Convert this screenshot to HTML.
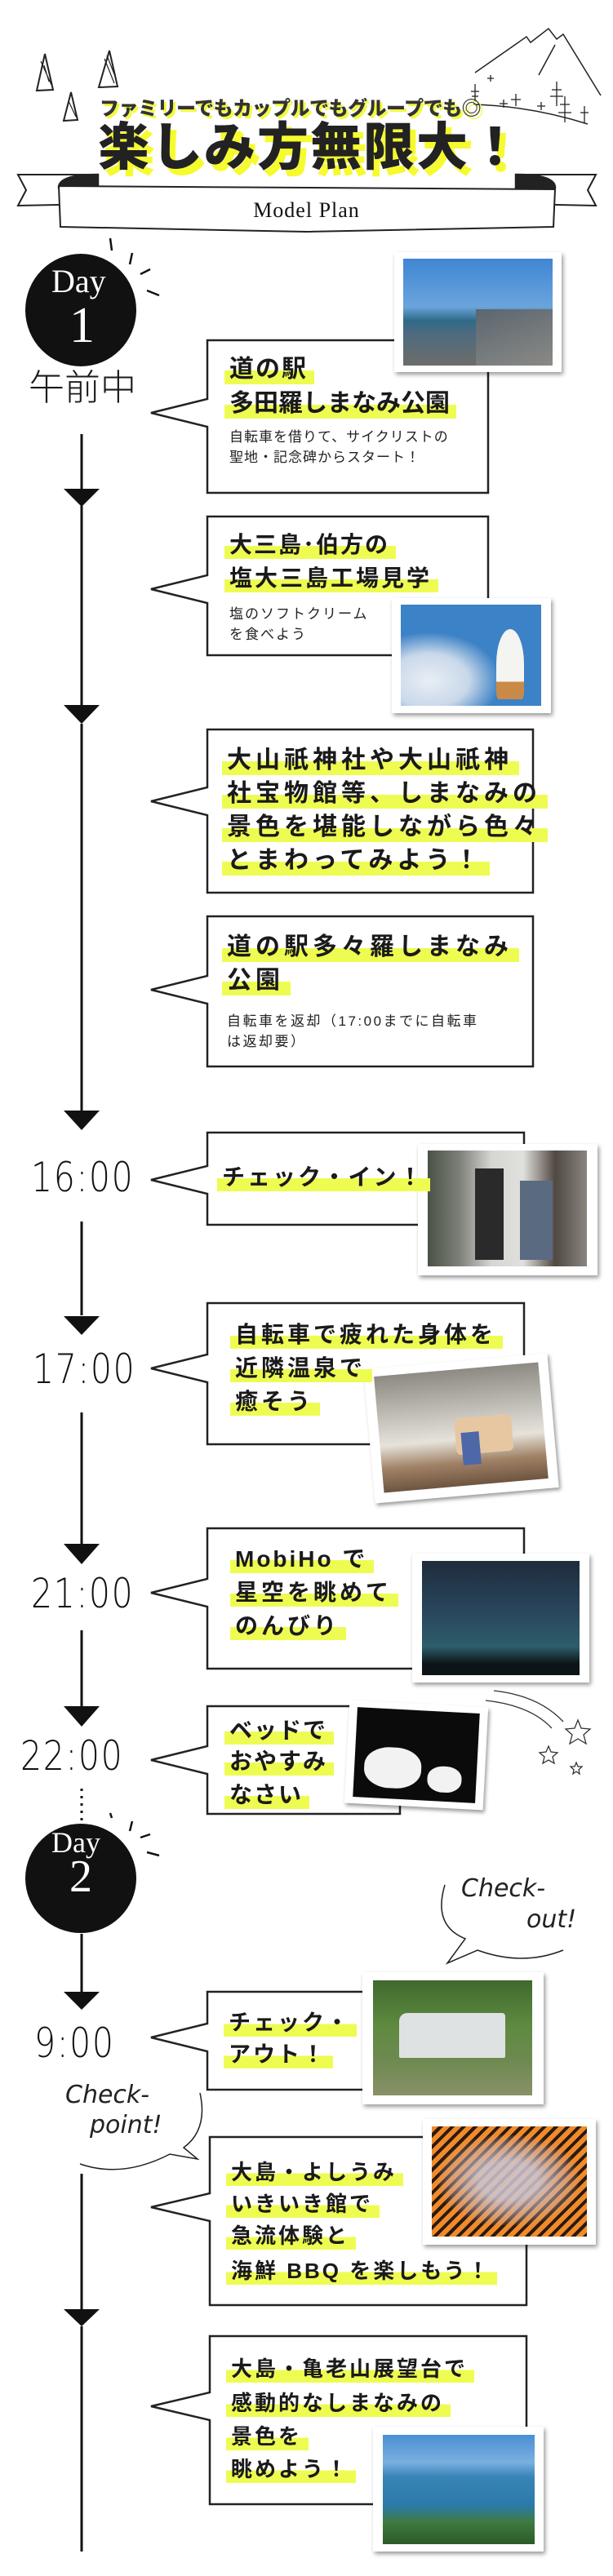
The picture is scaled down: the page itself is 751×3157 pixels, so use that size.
<!DOCTYPE html>
<html><head><meta charset="utf-8"><style>
*{margin:0;padding:0;box-sizing:border-box}
body{width:751px;height:3157px;background:#fff;position:relative;overflow:hidden;font-family:"Liberation Sans","Noto Sans CJK JP",sans-serif;color:#1a1a1a}
.a{position:absolute}
.t{position:absolute;font-family:"Liberation Sans","Noto Sans CJK JP",sans-serif;font-weight:700;font-size:28px;line-height:1;white-space:nowrap;letter-spacing:2px}
.t span{background:linear-gradient(transparent 52%,#eefc52 52%,#eefc52 100%);padding:0 8px 2px 6px;margin-left:-6px}
.s{position:absolute;font-family:"Liberation Sans","Noto Sans CJK JP",sans-serif;font-weight:400;font-size:17px;line-height:25px;white-space:nowrap;color:#222;letter-spacing:1px}
.ph{position:absolute;background:#fff;box-shadow:2px 3px 5px rgba(0,0,0,.4)}
.ph i{position:absolute;display:block}
.tm{position:absolute;font-family:"DejaVu Sans","Liberation Sans",sans-serif;font-weight:200;font-size:50px;line-height:1;transform:scaleX(.82);transform-origin:left top;color:#111;letter-spacing:2px}
.hw{position:absolute;font-family:"DejaVu Sans",sans-serif;font-style:italic;font-weight:200;font-size:30px;line-height:1;color:#222}
</style></head><body>
<svg class="a" style="left:0;top:0" width="751" height="3157" viewBox="0 0 751 3157">
<g fill="none" stroke="#222" stroke-width="2.5" stroke-linejoin="miter">
<!-- ribbon -->
<path d="M22 214 L120 214 L120 250 L22 252 L32 233 Z" fill="#fff" stroke-width="2"/>
<path d="M730 214 L632 214 L632 250 L730 252 L720 233 Z" fill="#fff" stroke-width="2"/>
<path d="M72 230 Q72 214 120 214 L120 230Z" fill="#222"/>
<path d="M680 230 Q680 214 632 214 L632 230Z" fill="#222"/>
<path d="M72 228 L680 232 L678 278 L375 284 L74 278 Z" fill="#fff" stroke-width="2"/>
<!-- top triangles -->
<path d="M55 66 L45 111 L65 110 Z" fill="#fff" stroke-width="2"/>
<path d="M134 62 L121 107 L144 106 Z" fill="#fff" stroke-width="2"/>
<path d="M87 113 L78 148 L95 147 Z" fill="#fff" stroke-width="2"/>
<path d="M50 75 L63 104 M54 80 L60 100 M128 72 L140 102 M131 68 L142 96 M84 124 L93 143" stroke-width="1.2"/>
<!-- mountain -->
<path d="M582 89 L645 45 L650 52 L672 35 L682 48 L690 42 L736 117 M680 55 L660 92" stroke-width="1.5"/>
<path d="M580 128 Q650 130 720 152" stroke-width="1.5"/>
<g stroke-width="1.3"><path d="M582 103 V125 M577 112 L587 112 M578 118 L586 118 M632 115 V130 M626 122 L638 122 M682 100 V130 M676 110 L688 110 M674 118 L690 118 M692 118 V150 M686 128 L698 128 M684 138 L700 138 M716 130 V150 M711 138 L721 138 M663 125 V135 M658 130 L668 130 M601 92 V100 M597 96 L605 96 M617 122 V132 M612 127 L622 127"/></g>
<!-- bubbles -->
<g fill="#fff" stroke="#222" stroke-width="2.5">
<path d="M254 417H598V604H254V523L185 506L254 489Z"/>
<path d="M254 633H598V803H254V739L185 722L254 705Z"/>
<path d="M254 894H653V1094H254V999L185 982L254 965Z"/>
<path d="M254 1123H653V1307H254V1230L185 1213L254 1196Z"/>
<path d="M254 1388H642V1501H254V1463L185 1446L254 1429Z"/>
<path d="M254 1597H642V1770H254V1694L185 1677L254 1660Z"/>
<path d="M254 1873H642V2045H254V1969L185 1952L254 1935Z"/>
<path d="M254 2091H490V2223H254V2174L185 2157L254 2140Z"/>
<path d="M254 2441H500V2561H254V2514L185 2497L254 2480Z"/>
<path d="M257 2619H645V2825H257V2722L185 2705L257 2688Z"/>
<path d="M257 2863H645V3069H257V2966L185 2949L257 2932Z"/>
</g>
<!-- timeline -->
<g stroke="#111" stroke-width="3">
<path d="M100 532V600 M100 620V864 M100 887V1361 M100 1497V1612 M100 1731V1892 M100 1998V2091 M100 2370V2441 M100 2664V2830 M100 2851V3127"/>
<path d="M100 2192V2235" stroke-dasharray="3 6"/>
</g>
<g fill="#111" stroke="none">
<polygon points="78,599 122,599 100,621"/>
<polygon points="78,864 122,864 100,887"/>
<polygon points="78,1361 122,1361 100,1385"/>
<polygon points="78,1613 122,1613 100,1636"/>
<polygon points="78,1892 122,1892 100,1917"/>
<polygon points="78,2091 122,2091 100,2116"/>
<polygon points="78,2441 122,2441 100,2463"/>
<polygon points="78,2830 122,2830 100,2851"/>
<ellipse cx="99" cy="380" rx="68" ry="69"/>
<ellipse cx="99" cy="2302" rx="68" ry="67"/>
</g>
<g stroke="#111" stroke-width="2.5">
<path d="M135 292 L137 307 M162 310 L159 324 M172 336 L184 330 M180 356 L195 362"/>
<path d="M135 2222 L137 2228 M162 2232 L159 2244 M172 2252 L184 2248 M180 2270 L195 2274"/>
</g>
<g stroke="#333" stroke-width="1.3" fill="none">
<path d="M605 2072 Q660 2078 690 2110 M595 2084 Q650 2090 676 2118"/>
<path d="M708 2108 l4 10 11 1 -8 7 3 11 -10 -6 -10 6 3 -11 -8 -7 11 -1z"/>
<path d="M672 2140 l3 7 8 1 -6 5 2 8 -7 -4 -7 4 2 -8 -6 -5 8 -1z"/>
<path d="M706 2160 l2 5 5 0 -4 4 1 5 -4 -3 -4 3 1 -5 -4 -4 5 0z"/>
</g>
<path d="M545 2310 Q530 2360 570 2376 L548 2406 L585 2390 Q640 2410 690 2390" fill="none" stroke="#222" stroke-width="1.5"/>
<path d="M245 2565 Q255 2610 225 2632 L242 2646 L208 2640 Q150 2670 98 2652" fill="none" stroke="#222" stroke-width="1.5"/>
</svg>

<div class="a" style="left:122px;top:122px;font-family:'Liberation Sans','Noto Sans CJK JP',sans-serif;font-weight:900;font-size:24px;line-height:1;letter-spacing:-0.5px;color:#333;text-shadow:3px 3px 0 #f2fb3c;white-space:nowrap">ファミリーでもカップルでもグループでも◎</div>
<div class="a" style="left:120px;top:150px;font-family:'Liberation Sans','Noto Sans CJK JP',sans-serif;font-weight:900;font-size:63px;line-height:1;letter-spacing:2px;color:#222;text-shadow:7px 8px 0 #f5fb2e;white-space:nowrap">楽しみ方無限大！</div>
<div class="a" style="left:0;width:751px;top:245px;text-align:center;font-family:'Liberation Serif',serif;font-size:26px;line-height:1;letter-spacing:1px;color:#111">Model Plan</div>

<div class="a" style="left:63px;top:325px;font-family:'Liberation Serif',serif;font-size:40px;color:#fff;line-height:1">Day</div>
<div class="a" style="left:85px;top:368px;font-family:'Liberation Serif',serif;font-size:62px;color:#fff;line-height:1">1</div>
<div class="a" style="left:63px;top:2240px;font-family:'Liberation Serif',serif;font-size:36px;color:#fff;line-height:1">Day</div>
<div class="a" style="left:85px;top:2272px;font-family:'Liberation Serif',serif;font-size:56px;color:#fff;line-height:1">2</div>

<div class="a" style="left:35px;top:454px;font-family:'Liberation Sans','Noto Sans CJK JP',sans-serif;font-weight:300;font-size:44px;line-height:1">午前中</div>

<div class="tm" style="left:38px;top:1418px">16:00</div>
<div class="tm" style="left:40px;top:1653px">17:00</div>
<div class="tm" style="left:38px;top:1928px">21:00</div>
<div class="tm" style="left:25px;top:2127px">22:00</div>
<div class="tm" style="left:42px;top:2479px">9:00</div>

<div class="hw" style="left:565px;top:2300px">Check-</div>
<div class="hw" style="left:645px;top:2338px">out!</div>
<div class="hw" style="left:80px;top:2553px">Check-</div>
<div class="hw" style="left:110px;top:2590px">point!</div>

<div class="ph" style="left:483px;top:309px;width:205px;height:147px"><i style="left:11px;top:8px;width:183px;height:131px;background:linear-gradient(180deg,#3f86d4 0%,#6aa4dc 45%,#2f6a88 58%,#4d6a80 70%,#6d6d6a 100%)"></i><i style="left:100px;top:70px;width:94px;height:69px;background:linear-gradient(160deg,#5b6670,#8a8a86)"></i></div>
<div class="ph" style="left:480px;top:733px;width:195px;height:141px"><i style="left:11px;top:8px;width:172px;height:124px;background:radial-gradient(ellipse at 20% 75%,#e8eef5 0%,#c9d8ea 25%,transparent 45%),#3c82c6"></i><i style="left:128px;top:38px;width:34px;height:86px;background:linear-gradient(180deg,#f4f4f0 75%,#c98a48 75%);border-radius:50% 50% 10% 10%"></i></div>

<div class="ph" style="left:512px;top:1402px;width:220px;height:161px"><i style="left:12px;top:8px;width:195px;height:142px;background:linear-gradient(90deg,#4a5246 0%,#7d8078 20%,#d5d5d2 40%,#e0e0dc 60%,#514842 80%,#8a8580 100%)"></i><i style="left:70px;top:30px;width:35px;height:112px;background:#2a2a2a"></i><i style="left:125px;top:45px;width:40px;height:97px;background:#5a6a80"></i></div>
<div class="ph" style="left:452px;top:1668px;width:226px;height:165px;transform:rotate(-5deg)"><i style="left:12px;top:10px;width:202px;height:143px;background:linear-gradient(180deg,#8d8a84 0%,#d0cdc6 45%,#e6e2da 60%,#a08266 80%,#6e5440 100%)"></i><i style="left:105px;top:70px;width:70px;height:45px;background:#e6c7a2;border-radius:6px"></i><i style="left:112px;top:88px;width:22px;height:40px;background:#4d67a8"></i></div>
<div class="ph" style="left:505px;top:1904px;width:217px;height:158px"><i style="left:12px;top:9px;width:193px;height:140px;background:linear-gradient(180deg,#1e2c3c 0%,#2a4a60 50%,#2d5d6a 75%,#0d1418 90%)"></i></div>
<div class="ph" style="left:425px;top:2088px;width:170px;height:126px;transform:rotate(3deg)"><i style="left:10px;top:8px;width:150px;height:110px;background:#0b0b0b"></i><i style="left:22px;top:55px;width:70px;height:50px;background:#f2f2f2;border-radius:45%"></i><i style="left:100px;top:75px;width:42px;height:32px;background:#f2f2f2;border-radius:45%"></i></div>

<div class="ph" style="left:444px;top:2417px;width:222px;height:162px"><i style="left:13px;top:10px;width:195px;height:141px;background:linear-gradient(180deg,#3f6a2e 0%,#5f8a40 40%,#6d8a50 70%,#8a9068 100%)"></i><i style="left:45px;top:50px;width:130px;height:55px;background:#dfe2e2;border-radius:10px 4px 2px 2px"></i></div>
<div class="ph" style="left:518px;top:2597px;width:212px;height:154px"><i style="left:11px;top:9px;width:190px;height:135px;background:repeating-linear-gradient(135deg,#f08a2a 0 6px,#2a1a10 6px 10px)"></i><i style="left:20px;top:20px;width:170px;height:110px;background:radial-gradient(ellipse,rgba(205,200,215,.85) 30%,rgba(200,180,190,.4) 60%,transparent 75%)"></i></div>
<div class="ph" style="left:457px;top:2974px;width:209px;height:153px"><i style="left:12px;top:10px;width:186px;height:134px;background:linear-gradient(180deg,#4a8fd4 0%,#7ab0e0 25%,#3a84b8 38%,#2a7aa8 65%,#3f7a40 80%,#2c5a28 100%)"></i></div>

<div class="t" style="left:281px;top:438px;font-size:30px"><span>道の駅</span></div>
<div class="t" style="left:281px;top:480px;font-size:30px;letter-spacing:0"><span>多田羅しまなみ公園</span></div>
<div class="s" style="left:281px;top:523px">自転車を借りて、サイクリストの<br>聖地・記念碑からスタート！</div>

<div class="t" style="left:281px;top:654px;font-size:28px"><span>大三島･伯方の</span></div>
<div class="t" style="left:281px;top:695px;font-size:28px;letter-spacing:3px"><span>塩大三島工場見学</span></div>
<div class="s" style="left:281px;top:740px;letter-spacing:2px">塩のソフトクリーム<br>を食べよう</div>

<div class="t" style="left:278px;top:917px;font-size:30px;letter-spacing:5px"><span>大山祇神社や大山祇神</span></div>
<div class="t" style="left:278px;top:958px;font-size:30px;letter-spacing:5px"><span>社宝物館等、しまなみの</span></div>
<div class="t" style="left:278px;top:999px;font-size:30px;letter-spacing:5px"><span>景色を堪能しながら色々</span></div>
<div class="t" style="left:278px;top:1040px;font-size:30px;letter-spacing:5px"><span>とまわってみよう！</span></div>

<div class="t" style="left:278px;top:1146px;font-size:30px;letter-spacing:5px"><span>道の駅多々羅しまなみ</span></div>
<div class="t" style="left:278px;top:1187px;font-size:30px;letter-spacing:5px"><span>公園</span></div>
<div class="s" style="left:278px;top:1239px;letter-spacing:2.5px">自転車を返却（17:00までに自転車<br>は返却要）</div>

<div class="t" style="left:272px;top:1429px;font-size:28px;letter-spacing:3px"><span>チェック・イン！</span></div>

<div class="t" style="left:288px;top:1622px;font-size:28px;letter-spacing:4px"><span>自転車で疲れた身体を</span></div>
<div class="t" style="left:288px;top:1663px;font-size:28px;letter-spacing:4px"><span>近隣温泉で</span></div>
<div class="t" style="left:288px;top:1704px;font-size:28px;letter-spacing:4px"><span>癒そう</span></div>

<div class="t" style="left:288px;top:1897px;font-size:28px;letter-spacing:3px"><span>MobiHo で</span></div>
<div class="t" style="left:288px;top:1938px;font-size:28px;letter-spacing:4px"><span>星空を眺めて</span></div>
<div class="t" style="left:288px;top:1979px;font-size:28px;letter-spacing:4px"><span>のんびり</span></div>

<div class="t" style="left:281px;top:2107px;font-size:28px"><span>ベッドで</span></div>
<div class="t" style="left:281px;top:2145px;font-size:28px"><span>おやすみ</span></div>
<div class="t" style="left:281px;top:2186px;font-size:28px"><span>なさい</span></div>

<div class="t" style="left:280px;top:2466px;font-size:27px;letter-spacing:3px"><span>チェック・</span></div>
<div class="t" style="left:280px;top:2505px;font-size:27px;letter-spacing:3px"><span>アウト！</span></div>

<div class="t" style="left:283px;top:2649px;font-size:26px;letter-spacing:3px"><span>大島・よしうみ</span></div>
<div class="t" style="left:283px;top:2688px;font-size:26px;letter-spacing:3px"><span>いきいき館で</span></div>
<div class="t" style="left:283px;top:2727px;font-size:26px;letter-spacing:3px"><span>急流体験と</span></div>
<div class="t" style="left:283px;top:2770px;font-size:26px;letter-spacing:3px"><span>海鮮 BBQ を楽しもう！</span></div>

<div class="t" style="left:283px;top:2890px;font-size:26px;letter-spacing:3px"><span>大島・亀老山展望台で</span></div>
<div class="t" style="left:283px;top:2932px;font-size:26px;letter-spacing:3px"><span>感動的なしまなみの</span></div>
<div class="t" style="left:283px;top:2973px;font-size:26px;letter-spacing:3px"><span>景色を</span></div>
<div class="t" style="left:283px;top:3013px;font-size:26px;letter-spacing:3px"><span>眺めよう！</span></div>
</body></html>
